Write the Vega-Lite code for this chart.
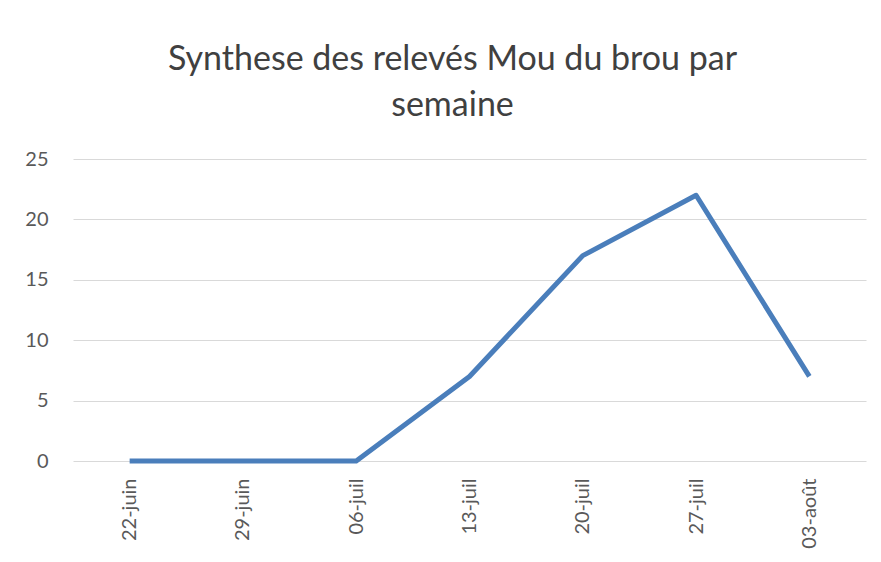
{
  "$schema": "https://vega.github.io/schema/vega-lite/v6.json",
  "width": 793,
  "height": 302,
  "autosize": {"type": "none"},
  "padding": {"left": 73, "top": 159, "right": 15, "bottom": 101},
  "background": "white",
  "config": {"view": {"stroke": null}, "font": "Lato"},
  "title": {
    "text": ["Synthese des relevés Mou du brou par", "semaine"],
    "fontSize": 34,
    "fontWeight": "normal",
    "color": "#404040",
    "lineHeight": 46,
    "anchor": "middle",
    "dx": -17,
    "offset": 26,
    "font": "Lato"
  },
  "data": {
    "values": [
      {"semaine": "22-juin", "releves": 0},
      {"semaine": "29-juin", "releves": 0},
      {"semaine": "06-juil", "releves": 0},
      {"semaine": "13-juil", "releves": 7},
      {"semaine": "20-juil", "releves": 17},
      {"semaine": "27-juil", "releves": 22},
      {"semaine": "03-août", "releves": 7}
    ]
  },
  "mark": {"type": "line", "color": "#4A7EBB", "strokeWidth": 5, "strokeJoin": "round", "strokeCap": "butt"},
  "encoding": {
    "x": {
      "field": "semaine",
      "type": "ordinal",
      "sort": null,
      "scale": {"type": "point", "padding": 0.5},
      "axis": {
        "title": null,
        "labelAngle": -90,
        "labelAlign": "right",
        "labelBaseline": "middle",
        "labelPadding": 17,
        "labelFontSize": 20,
        "labelColor": "#595959",
        "ticks": false,
        "domain": false,
        "grid": false
      }
    },
    "y": {
      "field": "releves",
      "type": "quantitative",
      "scale": {"domain": [0, 25]},
      "axis": {
        "title": null,
        "values": [0, 5, 10, 15, 20, 25],
        "labelFontSize": 20,
        "labelColor": "#595959",
        "labelPadding": 25,
        "ticks": false,
        "domain": false,
        "gridColor": "#d9d9d9",
        "gridWidth": 1.2
      }
    }
  }
}
